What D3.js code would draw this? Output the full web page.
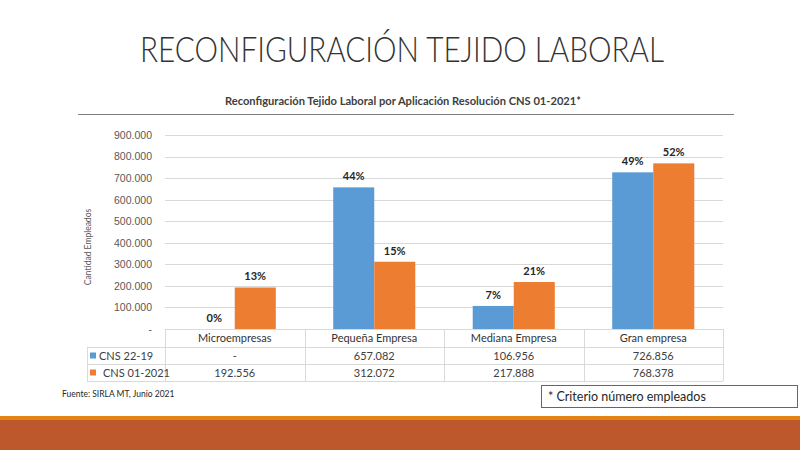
<!DOCTYPE html>
<html lang="es">
<head>
<meta charset="UTF-8" />
<title>Reconfiguración Tejido Laboral</title>
<script src="https://cdn.jsdelivr.net/npm/d3@7"></script>
<style>
  body { margin: 0; background: #fff; }
  svg { display: block; font-family: Lato, "Open Sans", sans-serif; }
  .grid line { stroke: #d9d9d9; stroke-width: 1; }
  .grid path { display: none; }
  .grid text { fill: #595959; font-size: 10.5px; }
</style>
</head>
<body>
<div id="chart"></div>
<script>
const categories = ["Microempresas", "Pequeña Empresa", "Mediana Empresa", "Gran empresa"]
const seriesNames = ["CNS 22-19", "CNS 01-2021"]
const cns2219 = [0, 657082, 106956, 726856]
const cns012021 = [192556, 312072, 217888, 768378]
const pct2219 = ["0%", "44%", "7%", "49%"]
const pct012021 = ["13%", "15%", "21%", "52%"]
const yTicks = [0, 100000, 200000, 300000, 400000, 500000, 600000, 700000, 800000, 900000]
const colors = ["#5b9bd5", "#ed7d31"]

const values = [cns2219, cns012021]
const labels = [pct2219, pct012021]

const W = 800, H = 450
const plot = { left: 165, right: 723, top: 135, bottom: 329 }

// es-style number format: 900.000
const loc = d3.formatLocale({ decimal: ",", thousands: ".", grouping: [3], currency: ["$", ""] })
const fmtInt = loc.format(",d")
const fmtTick = d => d === 0 ? "-" : fmtInt(d)

const svg = d3.select("#chart").append("svg").attr("width", W).attr("height", H)

// slide title
svg.append("text")
  .attr("x", 402).attr("y", 62)
  .attr("text-anchor", "middle")
  .attr("font-size", 35).attr("font-weight", 300)
  .attr("fill", "#333")
  .attr("textLength", 524).attr("lengthAdjust", "spacingAndGlyphs")
  .text("RECONFIGURACIÓN TEJIDO LABORAL")

// chart title + rule
svg.append("text")
  .attr("x", 403).attr("y", 105)
  .attr("text-anchor", "middle")
  .attr("font-size", 10.5).attr("font-weight", "bold")
  .attr("fill", "#404040")
  .attr("textLength", 356).attr("lengthAdjust", "spacingAndGlyphs")
  .text("Reconfiguración Tejido Laboral por Aplicación Resolución CNS 01-2021*")

svg.append("line")
  .attr("x1", 78).attr("x2", 734).attr("y1", 114.5).attr("y2", 114.5)
  .attr("stroke", "#7f7f7f").attr("stroke-width", 1.2)

const y = d3.scaleLinear().domain([0, 900000]).range([plot.bottom, plot.top])
const x0 = d3.scaleBand().domain(categories).range([plot.left, plot.right])
const x1 = d3.scaleBand().domain(seriesNames).range([0, x0.bandwidth()]).paddingOuter(0.7)

svg.append("g")
  .attr("class", "grid")
  .attr("transform", `translate(${plot.left},0)`)
  .call(d3.axisLeft(y).tickValues(yTicks).tickSize(-(plot.right - plot.left)).tickPadding(13).tickFormat(fmtTick))
  .call(g => g.selectAll(".tick line").attr("shape-rendering", "crispEdges"))

// y axis title
svg.append("text")
  .attr("transform", `translate(91,${(plot.top + plot.bottom) / 2 + 15}) rotate(-90)`)
  .attr("text-anchor", "middle")
  .attr("font-size", 8.5).attr("fill", "#595959")
  .text("Cantidad Empleados")

// bars
seriesNames.forEach((s, si) => {
  svg.append("g").selectAll("rect")
    .data(categories)
    .join("rect")
    .attr("x", d => x0(d) + x1(s))
    .attr("width", x1.bandwidth())
    .attr("y", (d, i) => y(values[si][i]))
    .attr("height", (d, i) => y(0) - y(values[si][i]))
    .attr("fill", colors[si])

  svg.append("g").selectAll("text")
    .data(categories)
    .join("text")
    .attr("x", d => x0(d) + x1(s) + x1.bandwidth() / 2)
    .attr("y", (d, i) => y(values[si][i]) - 7)
    .attr("text-anchor", "middle")
    .attr("font-size", 11).attr("font-weight", "bold")
    .attr("fill", "#262626")
    .text((d, i) => labels[si][i])
})

// data table
const rowY = [plot.bottom, 347, 364, 381]
const legendLeft = 87
const border = "#d9d9d9"
const table = svg.append("g").attr("shape-rendering", "crispEdges")

table.append("line")
  .attr("x1", plot.left).attr("x2", plot.right)
  .attr("y1", rowY[0] + 0.5).attr("y2", rowY[0] + 0.5)
  .attr("stroke", border)
rowY.slice(1).forEach(ry => {
  table.append("line")
    .attr("x1", legendLeft).attr("x2", plot.right)
    .attr("y1", ry + 0.5).attr("y2", ry + 0.5)
    .attr("stroke", border)
})
categories.concat([null]).forEach(c => {
  const xx = c === null ? plot.right : x0(c)
  table.append("line")
    .attr("x1", xx + 0.5).attr("x2", xx + 0.5)
    .attr("y1", rowY[0]).attr("y2", rowY[3])
    .attr("stroke", border)
})
table.append("line")
  .attr("x1", legendLeft + 0.5).attr("x2", legendLeft + 0.5)
  .attr("y1", rowY[1]).attr("y2", rowY[3])
  .attr("stroke", border)

svg.append("g").selectAll("text")
  .data(categories)
  .join("text")
  .attr("x", d => x0(d) + x0.bandwidth() / 2)
  .attr("y", (rowY[0] + rowY[1]) / 2 + 4)
  .attr("text-anchor", "middle")
  .attr("font-size", 11).attr("fill", "#333")
  .text(d => d)

seriesNames.forEach((s, si) => {
  const cy = (rowY[si + 1] + rowY[si + 2]) / 2
  svg.append("rect")
    .attr("x", 90).attr("y", cy - 3).attr("width", 6).attr("height", 6)
    .attr("fill", colors[si])
  svg.append("text")
    .attr("x", si === 0 ? 99 : 103).attr("y", cy + 4)
    .attr("font-size", 11).attr("fill", "#404040")
    .text(s)
  svg.append("g").selectAll("text")
    .data(categories)
    .join("text")
    .attr("x", d => x0(d) + x0.bandwidth() / 2)
    .attr("y", cy + 4)
    .attr("text-anchor", "middle")
    .attr("font-size", 11).attr("fill", "#404040")
    .text((d, i) => values[si][i] === 0 ? "-" : fmtInt(values[si][i]))
})

// source
svg.append("text")
  .attr("x", 62).attr("y", 397)
  .attr("font-size", 8.5).attr("fill", "#262626")
  .text("Fuente: SIRLA MT, Junio 2021")

// note box
svg.append("rect")
  .attr("x", 541.5).attr("y", 385.5).attr("width", 256).attr("height", 22)
  .attr("fill", "#fff").attr("stroke", "#a0542c").attr("stroke-width", 1)
svg.append("text")
  .attr("x", 548).attr("y", 400.5)
  .attr("font-size", 12.5).attr("fill", "#262626")
  .text("* Criterio número empleados")

// slide footer bands
svg.append("rect").attr("x", 0).attr("y", 416).attr("width", W).attr("height", 4).attr("fill", "#e48312")
svg.append("rect").attr("x", 0).attr("y", 420).attr("width", W).attr("height", 30).attr("fill", "#bd582c")
</script>
</body>
</html>
